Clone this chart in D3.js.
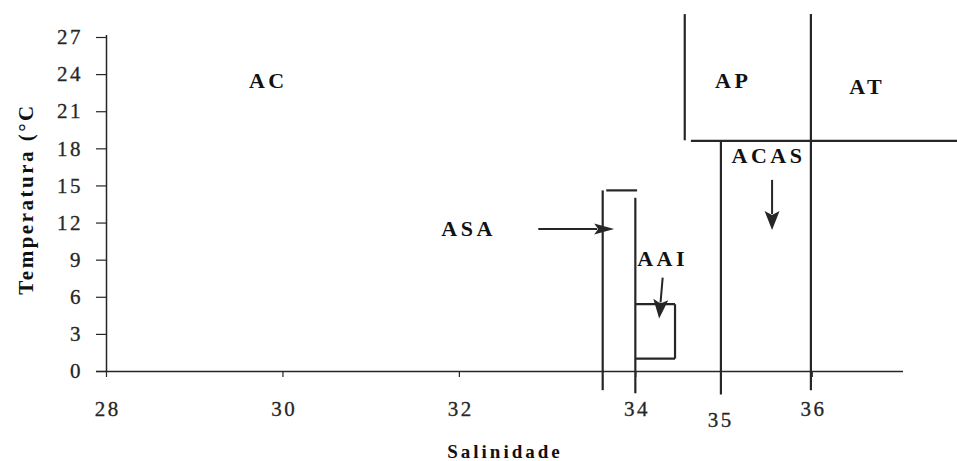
<!DOCTYPE html>
<html>
<head>
<meta charset="utf-8">
<script src="https://cdn.jsdelivr.net/npm/d3@7"></script>
<style>
  html, body { margin: 0; padding: 0; background: #fff; }
  svg { display: block; }
  .tick text { font-family: "Liberation Serif", "DejaVu Serif", serif; }
</style>
</head>
<body>
<svg id="chart" width="957" height="461"></svg>
<script>
// ---- Data (salinity / temperature units) ----
const xTicks = [28, 30, 32, 34, 36];
const yTicks = [0, 3, 6, 9, 12, 15, 18, 21, 24, 27];
const extraXLabels = [35];

// Water mass labels: name, salinity, temperature (label centre)
const massNames = ["AC", "AP", "AT", "ACAS", "ASA", "AAI"];
const massSal   = [29.82, 35.09, 36.61, 35.49, 32.09, 34.29];
const massTemp  = [23.5, 23.5, 23.0, 17.45, 11.55, 9.15];

// Boundary segments: [sal1, temp1, sal2, temp2]
const boundaries = [
  [33.63, 14.6, 33.63, -1.55],   // ASA left
  [33.67, 14.6, 34.02, 14.6],    // ASA top
  [34.0, 14.0, 34.0, -1.8],      // 34 line
  [34.0, 5.4, 34.45, 5.4],       // AAI box top
  [34.45, 5.4, 34.45, 1.0],      // AAI box right
  [34.45, 1.0, 34.0, 1.0],       // AAI box bottom
  [34.56, 28.85, 34.56, 18.65],  // AP left
  [34.63, 18.6, 37.7, 18.6],     // 18.6 °C horizontal
  [34.97, 18.6, 34.97, -1.9],    // 35 line
  [35.99, 28.85, 35.99, -1.55]   // 36 line
];

// Arrows: [sal1, temp1, sal2, temp2] (from -> to)
const arrows = [
  [32.90, 11.48, 33.76, 11.48],  // ASA
  [35.55, 15.45, 35.55, 11.40],  // ACAS
  [34.31, 7.55, 34.27, 4.25]     // AAI
];

// ---- Scales ----
const svg = d3.select("#chart");
const x = d3.scaleLinear().domain([28, 37]).range([106, 900]);
const y = d3.scaleLinear().domain([0, 27]).range([371, 37]);

const ink = "#262626";
const serif = '"Liberation Serif", "DejaVu Serif", serif';

// ---- Axes ----
const xAxis = svg.append("g")
  .attr("transform", `translate(0,${y(0)})`)
  .call(d3.axisBottom(x).tickValues(xTicks).tickSize(6).tickSizeOuter(0).tickPadding(24));
xAxis.select(".domain").attr("stroke", ink).attr("stroke-width", 1.5)
  .attr("d", `M96,0.5H${x(37) + 3}`);
xAxis.selectAll(".tick line").attr("stroke", ink).attr("stroke-width", 1.2);
xAxis.selectAll(".tick text")
  .attr("fill", ink).attr("font-size", 21).attr("letter-spacing", 2.5)
  .attr("stroke", ink).attr("stroke-width", 0.3)
  .attr("dx", 1.25);

const yAxis = svg.append("g")
  .attr("transform", `translate(${x(28)},0)`)
  .call(d3.axisLeft(y).tickValues(yTicks).tickSize(10).tickSizeOuter(0).tickPadding(13));
yAxis.select(".domain").attr("stroke", ink).attr("stroke-width", 1.5)
  .attr("d", `M0.5,${y(0)}V${y(27) - 2}`);
yAxis.selectAll(".tick line").attr("stroke", ink).attr("stroke-width", 1.2);
yAxis.selectAll(".tick text")
  .attr("fill", ink).attr("font-size", 21).attr("letter-spacing", 2.5)
  .attr("stroke", ink).attr("stroke-width", 0.3);

// extra label "35" below the 35 line
svg.selectAll(".extraX").data(extraXLabels).join("text")
  .attr("class", "extraX")
  .attr("x", d => x(d) - 4 + 1.25)
  .attr("y", y(0) + 56)
  .attr("text-anchor", "middle")
  .attr("font-family", serif).attr("font-size", 21).attr("letter-spacing", 2.5)
  .attr("stroke", ink).attr("stroke-width", 0.3)
  .attr("fill", ink)
  .text(d => d);

// ---- Boundaries ----
svg.append("g").selectAll("line").data(boundaries).join("line")
  .attr("x1", d => x(d[0])).attr("y1", d => y(d[1]))
  .attr("x2", d => x(d[2])).attr("y2", d => y(d[3]))
  .attr("stroke", ink).attr("stroke-width", 2.2).attr("stroke-linecap", "butt");

// ---- Arrows ----
const ag = svg.append("g");
arrows.forEach(a => {
  const x1 = x(a[0]), y1 = y(a[1]), x2 = x(a[2]), y2 = y(a[3]);
  const ang = Math.atan2(y2 - y1, x2 - x1);
  const horiz = Math.abs(Math.cos(ang)) > 0.9;
  const len = horiz ? 20 : 19, half = horiz ? 5.5 : 7.5;
  const bx = x2 - len * Math.cos(ang), by = y2 - len * Math.sin(ang);
  const px = -Math.sin(ang) * half, py = Math.cos(ang) * half;
  ag.append("line")
    .attr("x1", x1).attr("y1", y1).attr("x2", bx + 3 * Math.cos(ang)).attr("y2", by + 3 * Math.sin(ang))
    .attr("stroke", ink).attr("stroke-width", 2);
  ag.append("path")
    .attr("d", `M${x2},${y2}L${bx + px},${by + py}L${bx + 4 * Math.cos(ang)},${by + 4 * Math.sin(ang)}L${bx - px},${by - py}Z`)
    .attr("fill", ink);
});

// ---- Water mass labels ----
svg.append("g").selectAll("text").data(massNames).join("text")
  .attr("x", (d, i) => x(massSal[i]) + 1.75)
  .attr("y", (d, i) => y(massTemp[i]))
  .attr("dy", "0.35em")
  .attr("text-anchor", "middle")
  .attr("font-family", serif).attr("font-weight", "bold")
  .attr("font-size", 22).attr("letter-spacing", 3.5)
  .attr("fill", "#111")
  .text(d => d);

// ---- Axis titles ----
svg.append("text")
  .attr("x", 505).attr("y", 458)
  .attr("text-anchor", "middle")
  .attr("font-family", serif).attr("font-weight", "bold")
  .attr("font-size", 19).attr("letter-spacing", 3)
  .attr("fill", "#111")
  .text("Salinidade");

svg.append("text")
  .attr("transform", "translate(33,199) rotate(-90)")
  .attr("text-anchor", "middle")
  .attr("font-family", serif).attr("font-weight", "bold")
  .attr("font-size", 21).attr("letter-spacing", 2.5)
  .attr("fill", "#111")
  .text("Temperatura (°C");
</script>
</body>
</html>
